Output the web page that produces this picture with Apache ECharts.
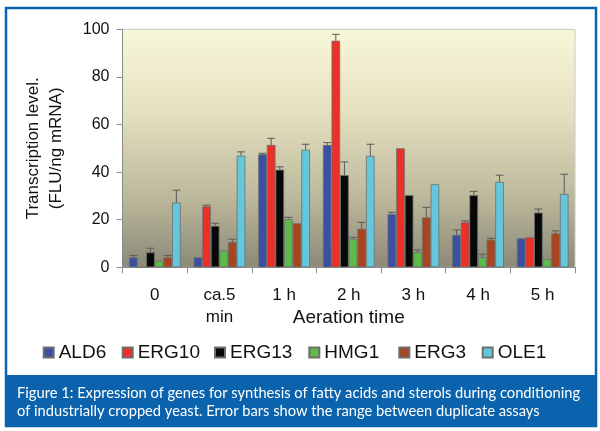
<!DOCTYPE html>
<html><head><meta charset="utf-8">
<script src="https://cdn.jsdelivr.net/npm/echarts@6/dist/echarts.min.js"></script>
<style>html,body{margin:0;padding:0;background:#fff}#c{width:600px;height:431px}</style>
</head><body><div id="c"></div>
<script>
const categories = ['0', 'ca.5\nmin', '1 h', '2 h', '3 h', '4 h', '5 h'];
const yTicks = [0, 20, 40, 60, 80, 100];
const genes = ['ALD6', 'ERG10', 'ERG13', 'HMG1', 'ERG3', 'OLE1'];
const colors = ['#3b4fa3', '#ec2f27', '#060808', '#5cbc47', '#a8451f', '#63c8dd'];
const ALD6 = [4.2, 4.2, 47.5, 51.4, 22.4, 13.6, 12.2];
const ERG10 = [0, 25.6, 51.4, 95.2, 50.0, 18.9, 12.6];
const ERG13 = [6.3, 17.4, 41.0, 38.7, 30.3, 30.3, 23.0];
const HMG1 = [2.8, 7.0, 20.3, 12.0, 6.3, 4.2, 3.4];
const ERG3 = [4.2, 10.6, 18.5, 16.2, 21.0, 11.6, 14.3];
const OLE1 = [27.2, 46.9, 49.4, 46.8, 34.9, 35.9, 30.8];
// upper end of the error bar (range between duplicate assays)
const ALD6_hi = [5.0, null, 47.9, 52.4, 23.1, 15.7, null];
const ERG10_hi = [null, 26.1, 54.2, 97.9, null, 19.5, null];
const ERG13_hi = [8.0, 18.5, 42.2, 44.3, null, 31.9, 24.5];
const HMG1_hi = [null, null, 21.0, 12.6, 7.3, 5.5, null];
const ERG3_hi = [5.0, 11.8, null, 18.9, 25.2, 12.2, 15.3];
const OLE1_hi = [32.4, 48.5, 51.7, 51.7, null, 38.7, 39.1];
const yName = 'Transcription level.\n(FLU/ng mRNA)';
const xName = 'Aeration time';
const caption1 = 'Figure 1: Expression of genes for synthesis of fatty acids and sterols during conditioning';
const caption2 = 'of industrially cropped yeast. Error bars show the range between duplicate assays';

const values = [ALD6, ERG10, ERG13, HMG1, ERG3, OLE1];
const highs = [ALD6_hi, ERG10_hi, ERG13_hi, HMG1_hi, ERG3_hi, OLE1_hi];
const legendLeft = [42.7, 121.7, 214, 308.3, 398.3, 481.7];
const CAT_GAP = 0.2;
const FONT = '"Liberation Sans", Arial, sans-serif';

const chart = echarts.init(document.getElementById('c'));
const series = [];
genes.forEach((g, i) => {
  series.push({
    name: g, type: 'bar', data: values[i], barGap: '0%', barCategoryGap: '20%',
    itemStyle: { color: colors[i], borderColor: '#6e6e6e', borderWidth: 0.8 },
    z: 2
  });
});
genes.forEach((g, i) => {
  const d = [];
  highs[i].forEach((h, k) => { if (h != null) d.push([k, values[i][k], h]); });
  series.push({
    name: g + ' err', type: 'custom', z: 5, silent: true,
    data: d,
    encode: { x: 0, y: [1, 2] },
    renderItem: function (params, api) {
      const ci = api.value(0), v = api.value(1), h = api.value(2);
      const p0 = api.coord([ci, v]);
      const p1 = api.coord([ci, h]);
      const band = api.size([1, 0])[0];
      const bw = band * (1 - CAT_GAP) / genes.length;
      const x = p0[0] + (i - (genes.length - 1) / 2) * bw;
      const half = bw * 0.45;
      const st = { stroke: '#5a5a5a', lineWidth: 1 };
      return { type: 'group', children: [
        { type: 'line', shape: { x1: x, y1: p0[1], x2: x, y2: p1[1] }, style: st },
        { type: 'line', shape: { x1: x - half, y1: p1[1], x2: x + half, y2: p1[1] }, style: st }
      ]};
    }
  });
});

const legends = genes.map((g, i) => ({
  data: [g], left: legendLeft[i], top: 343, padding: 0,
  itemWidth: 10, itemHeight: 10, itemGap: 0, icon: 'rect',
  textStyle: { fontSize: 19, color: '#111', fontFamily: FONT }
}));

chart.setOption({
  animation: false,
  textStyle: { fontFamily: FONT },
  graphic: [
    { type: 'rect', shape: { x: 6, y: 8, width: 590, height: 418 }, style: { fill: '#fff', stroke: '#0b63ad', lineWidth: 2.5 }, z: -10 },
    { type: 'rect', shape: { x: 6, y: 375, width: 590, height: 51 }, style: { fill: '#0b63ad' }, z: -9 },
    { type: 'text', x: 17, y: 393, style: { text: caption1, fill: '#fff', font: '14.7px Lato, "Open Sans", sans-serif', verticalAlign: 'middle' }, z: 10 },
    { type: 'text', x: 17, y: 411, style: { text: caption2, fill: '#fff', font: '14.7px Lato, "Open Sans", sans-serif', verticalAlign: 'middle' }, z: 10 }
  ],
  grid: {
    left: 122.5, top: 29.3, right: 25, bottom: 163.7, show: true,
    borderColor: '#c8c8c8', borderWidth: 1,
    backgroundColor: new echarts.graphic.LinearGradient(0, 0, 0, 1, [
      { offset: 0, color: '#f8f7d9' },
      { offset: 0.35, color: '#e4e1c0' },
      { offset: 0.7, color: '#bdb99c' },
      { offset: 1, color: '#8b8977' }
    ])
  },
  legend: legends,
  xAxis: {
    type: 'category', data: categories,
    name: xName, nameLocation: 'middle', nameGap: 41, nameMoveOverlap: false,
    nameTextStyle: { fontSize: 19, color: '#111' },
    axisLine: { lineStyle: { color: '#8a8a8a' } },
    axisTick: { show: true, length: 6, lineStyle: { color: '#8a8a8a' } },
    axisLabel: { fontSize: 17, color: '#111', margin: 17, lineHeight: 22 }
  },
  yAxis: {
    type: 'value', min: 0, max: 100, interval: 20,
    name: yName, nameLocation: 'middle', nameGap: 55, nameRotate: 90, nameMoveOverlap: false,
    nameTextStyle: { fontSize: 17, color: '#111', lineHeight: 23 },
    axisLine: { show: true, lineStyle: { color: '#8a8a8a' } },
    axisTick: { show: true, length: 6, lineStyle: { color: '#8a8a8a' } },
    splitLine: { show: false },
    axisLabel: { fontSize: 16, color: '#111', margin: 13,
      formatter: v => yTicks.includes(v) ? String(v) : '' }
  },
  series: series
});
</script></body></html>
